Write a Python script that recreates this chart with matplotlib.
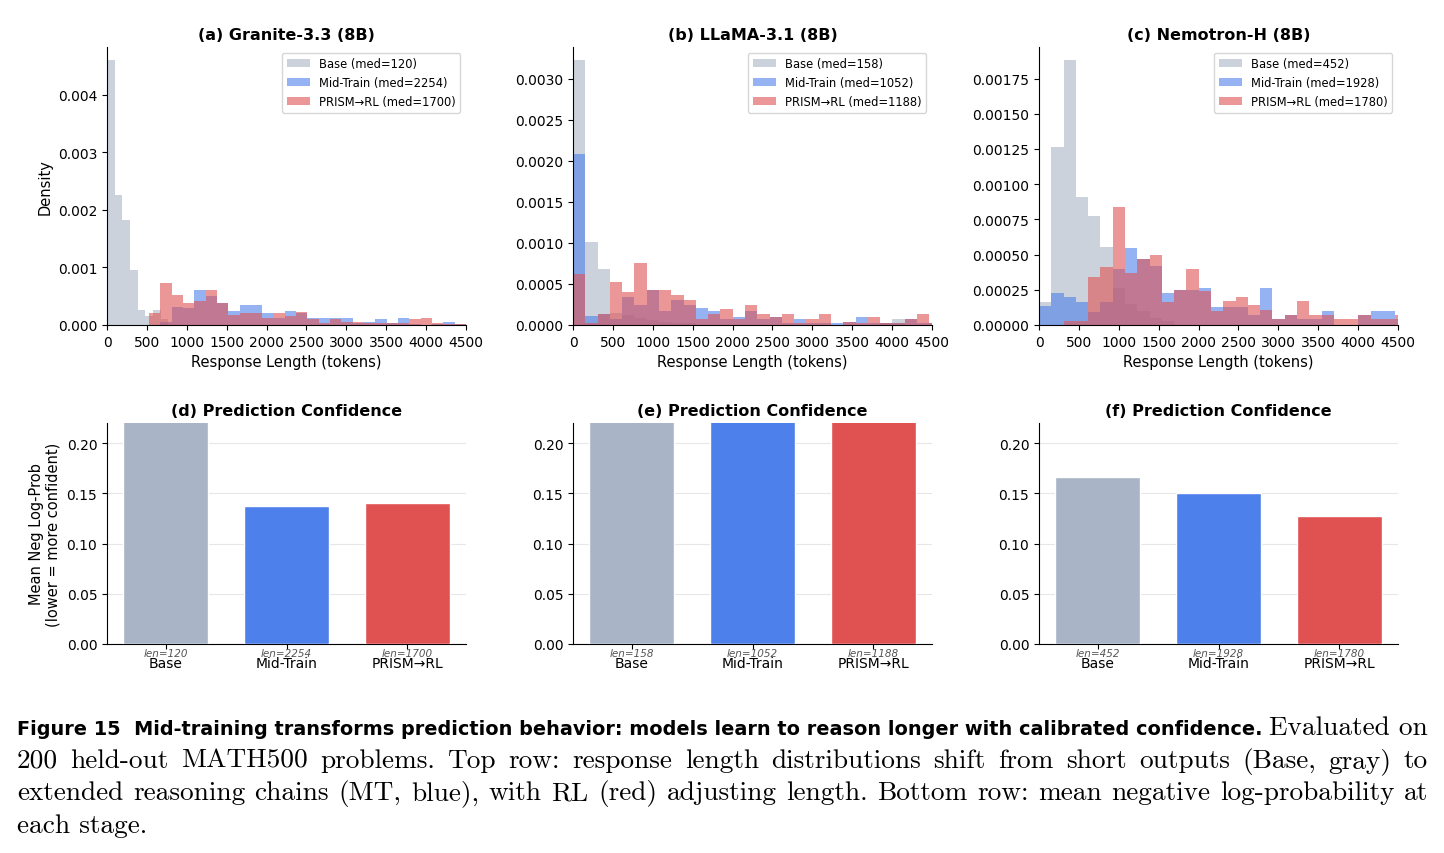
import numpy as np
import matplotlib
matplotlib.use('Agg')
import matplotlib.pyplot as plt

# ---- data ----
stages = ['Base', 'Mid-Train', 'PRISM→RL']
hist_titles = ['(a) Granite-3.3 (8B)', '(b) LLaMA-3.1 (8B)', '(c) Nemotron-H (8B)']
conf_titles = ['(d) Prediction Confidence', '(e) Prediction Confidence', '(f) Prediction Confidence']

med_granite = [120, 2254, 1700]
med_llama = [158, 1052, 1188]
med_nemo = [452, 1928, 1780]

# mean negative log-prob per stage (bars above 0.22 run off the axis)
nll_granite = [0.31, 0.137, 0.140]
nll_llama = [0.42, 0.36, 0.34]
nll_nemo = [0.166, 0.150, 0.127]

# density histograms: bin start, bin width, heights
granite_base_bins = (0, 96)
granite_base = [0.0046, 0.00226, 0.00183, 0.00095, 0.00026, 0.00016, 0.00026, 0.0001]
granite_long_bins = (526, 141.9)
granite_mt = [0, 0.00006, 0.00032, 0.0003, 0.0006, 0.0005, 0.00038, 0.00025, 0.00035, 0.00035,
              0.0002, 0.00013, 0.00024, 0.0002, 0.00013, 0.00013, 0.00013, 0.00013, 0.00004, 0.00006,
              0.0001, 0.00003, 0.00013, 0.00002, 0.0, 0.00002, 0.00006, 0.00002]
granite_rl = [0.0002, 0.00073, 0.00052, 0.00038, 0.00041, 0.0006, 0.00038, 0.00017, 0.0002, 0.0002,
              0.00013, 0.0002, 0.00016, 0.00023, 0.0001, 0.00004, 0.0001, 0.00006, 0.00006, 0.00004,
              0.00004, 0.00003, 0.00003, 0.0001, 0.00013, 0.00003, 0.00002, 0.00002]

llama_bins = (0, 154)
llama_base = [0.003224, 0.00101, 0.000686, 0.00015, 0.00012, 0.00008, 0.00006, 0.00004, 0.00003, 0.00002,
              0, 0, 0, 0, 0, 0, 0, 0, 0, 0,
              0, 0, 0, 0, 0, 0.00003, 0.00007, 0, 0, 0]
llama_mt = [0.002086, 0.000106, 0.000135, 0.00007, 0.00034, 0.00024, 0.00043, 0.00017, 0.0003, 0.00024,
            0.00021, 0.00017, 0.00007, 0.0001, 0.00017, 0.00007, 0.0001, 0.00003, 0.00007, 0.00003,
            0.00003, 0.00003, 0.00004, 0.0001, 0.00003, 0.00002, 0.00003, 0.00007, 0.00003, 0.00003]
llama_rl = [0.000625, 0.00003, 0.000135, 0.00052, 0.0004, 0.00076, 0.00043, 0.00043, 0.00037, 0.0003,
            0.00007, 0.000135, 0.0002, 0.00007, 0.00024, 0.000135, 0.0001, 0.000135, 0.00003, 0.00007,
            0.000135, 0, 0.00004, 0.00003, 0.0001, 0.00002, 0.00003, 0.00007, 0.000135, 0.00002]

nemo_bins = (0, 154)
nemo_base = [0.000162, 0.001264, 0.00188, 0.00091, 0.000776, 0.000555, 0.00026, 0.00015, 0.0001, 0.00005,
             0.00003, 0, 0, 0, 0, 0, 0, 0, 0, 0,
             0, 0, 0, 0, 0, 0, 0, 0, 0, 0]
nemo_mt = [0.000133, 0.000226, 0.000198, 0.000162, 0.000095, 0.00016, 0.0004, 0.00055, 0.00047, 0.00042,
           0.00023, 0.00025, 0.00025, 0.00026, 0.00013, 0.00013, 0.00013, 0.00007, 0.00026, 0.00004,
           0.00007, 0.00004, 0.00004, 0.0001, 0, 0, 0.00007, 0.0001, 0.0001, 0.00004]
nemo_rl = [0, 0, 0.00003, 0.00003, 0.00034, 0.00041, 0.00084, 0.00037, 0.00047, 0.0005,
           0.00016, 0.00025, 0.0004, 0.00024, 0.0001, 0.00017, 0.0002, 0.00014, 0.00011, 0.00004,
           0.00007, 0.00017, 0.00007, 0.00007, 0.00004, 0.00004, 0.00007, 0.00004, 0.00004, 0.00007]

c_base = '#a9b4c6'
c_mt = '#4e80eb'
c_rl = '#e05252'
colors = [c_base, c_mt, c_rl]


def edges(spec, n):
    start, w = spec
    return start + w * np.arange(n + 1)


hists = [
    [(granite_base, granite_base_bins), (granite_mt, granite_long_bins), (granite_rl, granite_long_bins)],
    [(llama_base, llama_bins), (llama_mt, llama_bins), (llama_rl, llama_bins)],
    [(nemo_base, nemo_bins), (nemo_mt, nemo_bins), (nemo_rl, nemo_bins)],
]
meds = [med_granite, med_llama, med_nemo]
nlls = [nll_granite, nll_llama, nll_nemo]

fig = plt.figure(figsize=(14.44, 8.54), dpi=100)
W, H = 1444., 854.
lefts = [107, 573, 1039]
aw = 359

for i in range(3):
    ax = fig.add_axes([lefts[i] / W, 1 - 326 / H, aw / W, 278 / H])
    for j in range(3):
        dens, spec = hists[i][j]
        e = edges(spec, len(dens))
        ax.hist(e[:-1], bins=e, weights=dens, color=colors[j], alpha=0.6,
                label='%s (med=%d)' % (stages[j], meds[i][j]))
    ax.set_xlim(0, 4500)
    ax.set_xticks(np.arange(0, 4501, 500))
    ax.set_title(hist_titles[i], fontsize=11.5, fontweight='bold')
    ax.set_xlabel('Response Length (tokens)', fontsize=10.5)
    if i == 0:
        ax.set_ylabel('Density', fontsize=10.5)
    ax.tick_params(labelsize=10)
    ax.spines['top'].set_visible(False)
    ax.spines['right'].set_visible(False)
    ax.legend(loc='upper right', fontsize=8.3)

    bx = fig.add_axes([lefts[i] / W, 1 - 645 / H, aw / W, 221 / H])
    x = np.arange(3)
    bx.bar(x, nlls[i], 0.7, color=colors, edgecolor='white', linewidth=1, zorder=3)
    bx.set_ylim(0, 0.22)
    bx.set_yticks([0, 0.05, 0.10, 0.15, 0.20])
    bx.set_xticks(x)
    bx.set_xticklabels(stages, fontsize=10)
    bx.tick_params(axis='x', pad=5)
    bx.tick_params(labelsize=10)
    bx.grid(axis='y', alpha=0.3, zorder=0)
    bx.set_title(conf_titles[i], fontsize=11.5, fontweight='bold')
    for k in range(3):
        bx.text(x[k], -0.004, 'len=%d' % meds[i][k], ha='center', va='top',
                fontsize=7.5, style='italic', color='#555555', clip_on=False)
    if i == 0:
        bx.set_ylabel('Mean Neg Log-Prob\n(lower = more confident)', fontsize=10.5)
    bx.spines['top'].set_visible(False)
    bx.spines['right'].set_visible(False)

# ---- caption ----
fig.canvas.draw()
r = fig.canvas.get_renderer()


def width(t):
    return t.get_window_extent(renderer=r).width


head = 'Figure 15  Mid-training transforms prediction behavior: models learn to reason longer with calibrated confidence.'
t = fig.text(17 / W, 1 - 735 / H, head, fontsize=16, fontweight='bold', family='DejaVu Sans')
t.set_fontsize(16 * 1241 / width(t))

lines = ['200 held-out MATH500 problems. Top row: response length distributions shift from short outputs (Base, gray) to',
         'extended reasoning chains (MT, blue), with RL (red) adjusting length. Bottom row: mean negative log-probability at']

# size the serif text so the fullest line just fits the text block
probe = fig.text(0, 0, lines[1], fontsize=16, family='cmr10')
fs = 16 * 1405 / width(probe)
probe.remove()
serif = dict(fontsize=fs, family='cmr10')

fig.text(1428 / W, 1 - 735 / H, 'Evaluated on', ha='right', **serif)
for n, line in enumerate(lines):
    y = 1 - (768 + 32.5 * n) / H
    words = line.split(' ')
    ts = [fig.text(0, y, w_, **serif) for w_ in words]
    ws = [width(tt) for tt in ts]
    gap = (1411 - sum(ws)) / (len(words) - 1)
    xp = 17.
    for tt, ww in zip(ts, ws):
        tt.set_x(xp / W)
        xp += ww + gap
fig.text(17 / W, 1 - 833 / H, 'each stage.', **serif)

fig.savefig('out.png', dpi=100)
